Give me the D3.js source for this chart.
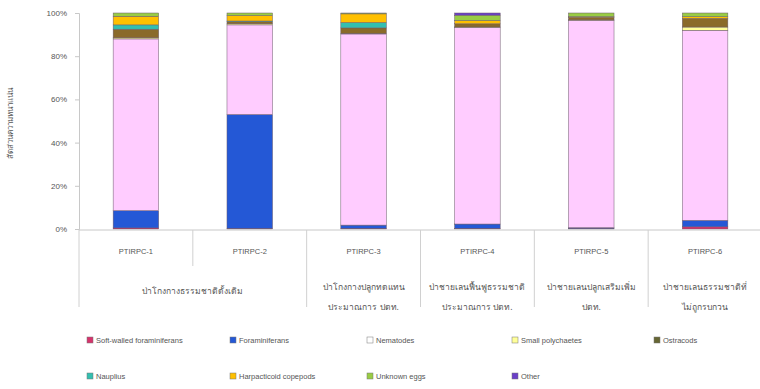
<!DOCTYPE html>
<html>
<head>
<meta charset="utf-8">
<script src="https://cdn.jsdelivr.net/npm/d3@7"></script>
<style>
  html, body { margin: 0; padding: 0; background: #fff; }
  svg { display: block; font-family: "Liberation Sans", Arial, sans-serif; }
</style>
</head>
<body>
<svg id="chart" width="760" height="389"></svg>
<script>
// Sampling stations
const stations = ["PTIRPC-1", "PTIRPC-2", "PTIRPC-3", "PTIRPC-4", "PTIRPC-5", "PTIRPC-6"];

// Taxon groups, stacked bottom to top
const taxa = ["Soft-walled foraminiferans", "Foraminiferans", "Nematodes", "Small polychaetes",
              "Ostracods", "Nauplius", "Harpacticoid copepods", "Unknown eggs", "Other"];
const taxaColors = ["#d6336c", "#2458d6", "#ffccff", "#ffff99", "#8a6a2a", "#33bfb0", "#ffc000", "#99cc44", "#6a3fc8"];

// Percent composition per station (same order as taxa)
const softWalled    = [0.5, 0.3, 0.3, 0.3, 0.3, 1.0];
const foraminifera  = [8.0, 52.7, 1.5, 2.0, 0.3, 3.0];
const nematodes     = [79.5, 41.5, 88.5, 91.0, 96.0, 88.0];
const polychaetes   = [0.5, 0.5, 0.3, 0.2, 0.2, 1.5];
const ostracods     = [4.0, 1.0, 2.5, 1.5, 1.2, 4.0];
const nauplius      = [2.0, 0.3, 2.5, 0.0, 0.0, 0.0];
const harpacticoids = [4.0, 2.5, 4.0, 1.5, 0.3, 0.8];
const unknownEggs   = [1.5, 1.2, 0.4, 2.5, 1.7, 1.7];
const other         = [0.0, 0.0, 0.0, 1.0, 0.0, 0.0];

const yTicks = [0, 0.2, 0.4, 0.6, 0.8, 1.0];
const yTitle = "สัดส่วนความหนาแน่น";

// Habitat groups beneath the station labels
const habitatLabels = [
  { from: 0, to: 1, lines: ["ป่าโกงกางธรรมชาติดั้งเดิม"] },
  { from: 2, to: 2, lines: ["ป่าโกงกางปลูกทดแทน", "ประมาณการ ปตท."] },
  { from: 3, to: 3, lines: ["ป่าชายเลนฟื้นฟูธรรมชาติ", "ประมาณการ ปตท."] },
  { from: 4, to: 4, lines: ["ป่าชายเลนปลูกเสริมเพิ่ม", "ปตท."] },
  { from: 5, to: 5, lines: ["ป่าชายเลนธรรมชาติที่", "ไม่ถูกรบกวน"] }
];

const seriesValues = [softWalled, foraminifera, nematodes, polychaetes, ostracods,
                      nauplius, harpacticoids, unknownEggs, other];

const rows = stations.map((s, i) => {
  const r = { station: s };
  taxa.forEach((t, k) => { r[t] = seriesValues[k][i] / 100; });
  return r;
});

const svg = d3.select("#chart");
const plotLeft = 79, plotRight = 762, plotTop = 13, plotBottom = 229;

const x = d3.scaleBand().domain(stations).range([plotLeft, plotRight])
  .paddingInner(0.6).paddingOuter(0.3);
const y = d3.scaleLinear().domain([0, 1]).range([plotBottom, plotTop]);
const color = d3.scaleOrdinal().domain(taxa).range(taxaColors);

const stacked = d3.stack().keys(taxa)(rows);

// Stacked bars
svg.append("g").selectAll("g").data(stacked).join("g")
  .attr("fill", d => color(d.key))
  .selectAll("rect").data(d => d).join("rect")
  .attr("x", d => x(d.data.station))
  .attr("width", x.bandwidth())
  .attr("y", d => y(d[1]))
  .attr("height", d => Math.max(0, y(d[0]) - y(d[1])))
  .attr("stroke", "#6b5a6b")
  .attr("stroke-width", 0.5);

// Y axis
const yAxis = svg.append("g").attr("transform", `translate(${plotLeft},0)`)
  .call(d3.axisLeft(y).tickValues(yTicks).tickFormat(d3.format(".0%")).tickSize(4).tickPadding(8));
yAxis.select(".domain").attr("stroke", "#c8c8c8");
yAxis.selectAll(".tick line").attr("stroke", "#c8c8c8");
yAxis.selectAll("text").attr("fill", "#555").attr("font-size", 8);

svg.append("text")
  .attr("transform", `translate(13,${(plotTop + plotBottom) / 2 + 2}) rotate(-90)`)
  .attr("text-anchor", "middle")
  .attr("font-size", 8).attr("fill", "#555")
  .attr("font-family", "'Noto Sans', sans-serif")
  .text(yTitle);

// Category axis: baseline, station row, habitat row
const step = x.step();
const slotLeft = i => plotLeft + i * step;
const lineColor = "#d0d0d0";

svg.append("line").attr("x1", plotLeft).attr("x2", plotRight)
  .attr("y1", plotBottom + 1).attr("y2", plotBottom + 1)
  .attr("stroke", "#c8c8c8");

const catAxis = svg.append("g");
stations.forEach((s, i) => {
  catAxis.append("line")
    .attr("x1", slotLeft(i)).attr("x2", slotLeft(i))
    .attr("y1", plotBottom + 1).attr("y2", 266)
    .attr("stroke", lineColor);
  catAxis.append("text")
    .attr("x", x(s) + x.bandwidth() / 2).attr("y", 254)
    .attr("text-anchor", "middle").attr("font-size", 7.5).attr("fill", "#555")
    .text(s);
});

habitatLabels.forEach(h => {
  const left = slotLeft(h.from), right = slotLeft(h.to + 1);
  catAxis.append("line")
    .attr("x1", left).attr("x2", left).attr("y1", 266).attr("y2", 307)
    .attr("stroke", lineColor);
  const cx = (left + right) / 2;
  const startY = h.lines.length === 1 ? 294 : 290;
  h.lines.forEach((ln, j) => {
    catAxis.append("text")
      .attr("x", cx).attr("y", startY + j * 20)
      .attr("text-anchor", "middle").attr("font-size", 8.5).attr("fill", "#555")
      .attr("font-family", "'Noto Sans', sans-serif")
      .text(ln);
  });
});

// Legend
const legendCols = [90, 233, 370, 515, 657];
const legendRows = [341, 377];
const legendOrder = ["Soft-walled foraminiferans", "Foraminiferans", "Nematodes", "Small polychaetes", "Ostracods",
                     "Nauplius", "Harpacticoid copepods", "Unknown eggs", "Other"];
const legendFill = {
  "Harpacticoid copepods": color("Harpacticoid copepods"),
  "Ostracods": "#666633",
  "Nematodes": "#ffffff"
};
const legend = svg.append("g");
legendOrder.forEach((name, i) => {
  const cx = legendCols[i % 5], cy = legendRows[Math.floor(i / 5)];
  const key = name === "Harpacticoid copepods" ? "Harpacticoid copepods" : name;
  legend.append("rect")
    .attr("x", cx - 3).attr("y", cy - 4).attr("width", 6).attr("height", 6)
    .attr("fill", legendFill[name] || color(key))
    .attr("stroke", "#777").attr("stroke-width", 0.5);
  legend.append("text")
    .attr("x", cx + 6).attr("y", cy + 2)
    .attr("font-size", 7.5).attr("fill", "#555")
    .text(name);
});
</script>
</body>
</html>
